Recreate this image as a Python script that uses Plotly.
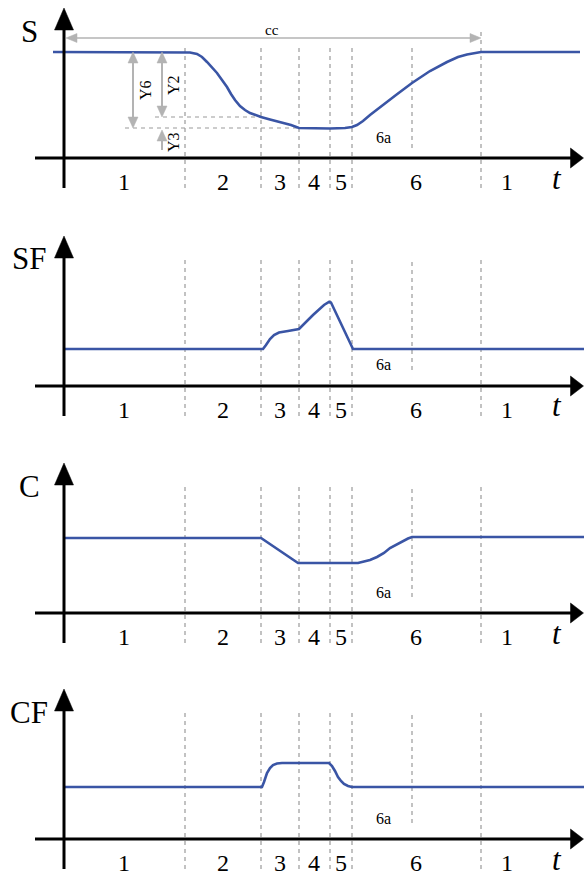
import plotly.graph_objects as go

W, H = 584, 877
BLUE = "#3a55a5"
GRAY_DASH = "#9a9a9a"
GRAY_ARROW = "#b3b3b3"
SERIF = "Liberation Serif"

# ---------------- data (t: time units, y: level units) ----------------
panel_names = ["S", "SF", "C", "CF"]
bounds = [12.1, 19.7, 23.5, 26.6, 28.8, 34.8, 41.7]          # phase boundaries
phase_labels = ["1", "2", "3", "4", "5", "6", "1"]
phase_label_t = [6.0, 15.9, 21.6, 25.0, 27.7, 35.2, 44.3]

S_t = [-1.1, 12.1, 12.6, 13.3, 13.8, 14.3, 14.8, 15.3, 15.8, 16.3, 16.7, 17.1, 17.6,
       18.1, 18.6, 19.2, 19.7, 20.6, 21.9, 22.7, 23.5, 25.1, 26.6, 28.1, 28.8, 29.3,
       29.9, 30.6, 31.6, 33.2, 34.8, 36.6, 38.3, 39.4, 40.3, 41.1, 41.7, 51.6]
S_y = [10.6, 10.6, 10.55, 10.4, 10.1, 9.6, 9.1, 8.5, 7.8, 7.1, 6.4, 5.8, 5.2,
       4.8, 4.5, 4.25, 4.1, 3.85, 3.55, 3.3, 3.0, 2.95, 2.95, 3.0, 3.1, 3.3,
       3.7, 4.3, 5.1, 6.3, 7.5, 8.7, 9.6, 10.1, 10.35, 10.5, 10.6, 10.6]

SF_t = [0.1, 19.9, 20.2, 20.6, 21.0, 21.5, 22.4, 23.5, 24.9, 26.0, 26.5, 26.7, 28.9, 52.0]
SF_y = [3.7, 3.7, 4.1, 4.7, 5.1, 5.35, 5.5, 5.7, 7.1, 8.1, 8.4, 8.35, 3.7, 3.7]

C_t = [0.1, 19.7, 23.4, 28.8, 29.4, 30.0, 30.6, 31.3, 32.0, 32.6, 33.3, 33.9, 34.4, 34.8, 52.0]
C_y = [7.5, 7.5, 5.0, 5.0, 5.0, 5.15, 5.3, 5.6, 6.0, 6.5, 6.9, 7.2, 7.45, 7.6, 7.6]

CF_t = [0.1, 19.8, 20.0, 20.3, 20.6, 20.9, 21.3, 21.8, 26.5, 26.8, 27.1, 27.4, 27.7,
        28.0, 28.4, 28.8, 52.0]
CF_y = [5.2, 5.2, 5.7, 6.6, 7.1, 7.4, 7.55, 7.6, 7.6, 7.3, 6.8, 6.2, 5.8,
        5.5, 5.3, 5.2, 5.2]

series = [(S_t, S_y), (SF_t, SF_y), (C_t, C_y), (CF_t, CF_y)]

# annotation levels in panel S
Y_top, Y2_level, Y6_level = 10.6, 4.1, 3.0

# ---------------- layout geometry ----------------
axis_px = [158, 386, 613, 839]       # pixel row of each t-axis
ABOVE, BELOW = 158, 38               # px of plot area above / below t-axis
X_RANGE = [-6.4, 52.0]               # 10 px per unit
Y_RANGE = [-BELOW / 10, ABOVE / 10]

fig = go.Figure()
shapes = []
annotations = []


def refs(k):
    s = "" if k == 0 else str(k + 1)
    return "x" + s, "y" + s


def line_shape(k, x0, y0, x1, y1, color, width, dash=None, layer="above"):
    xr, yr = refs(k)
    ln = dict(color=color, width=width)
    if dash:
        ln["dash"] = dash
    return dict(type="line", xref=xr, yref=yr, x0=x0, y0=y0, x1=x1, y1=y1, line=ln, layer=layer)


def head_shape(k, tx, ty, dx, dy, length, half, color, layer="above"):
    xr, yr = refs(k)
    bx, by = tx - dx * length, ty - dy * length
    px, py = -dy * half, dx * half
    path = f"M{tx},{ty} L{bx + px},{by + py} L{bx - px},{by - py} Z"
    return dict(type="path", xref=xr, yref=yr, path=path, fillcolor=color,
                line=dict(color=color, width=0.5), layer=layer)


def arrow(k, x0, y0, x1, y1, color, width, length, half, both=False, layer="above"):
    dxt, dyt = x1 - x0, y1 - y0
    n = (dxt ** 2 + dyt ** 2) ** 0.5
    dx, dy = dxt / n, dyt / n
    sx, sy = x0, y0
    if both:
        sx, sy = x0 + dx * length * 0.8, y0 + dy * length * 0.8
        shapes.append(head_shape(k, x0, y0, -dx, -dy, length, half, color, layer))
    ex, ey = x1 - dx * length * 0.8, y1 - dy * length * 0.8
    shapes.append(line_shape(k, sx, sy, ex, ey, color, width, layer=layer))
    shapes.append(head_shape(k, x1, y1, dx, dy, length, half, color, layer))


def text(k, x, y, s, size, italic=False, angle=0, color="black"):
    xr, yr = refs(k)
    annotations.append(dict(xref=xr, yref=yr, x=x, y=y, text=s, showarrow=False,
                            textangle=angle, xanchor="center", yanchor="middle",
                            borderpad=0,
                            font=dict(family=SERIF, size=size, color=color,
                                      style="italic" if italic else "normal")))


for k in range(4):
    xr, yr = refs(k)
    top_px = axis_px[k] - ABOVE
    bot_px = axis_px[k] + BELOW
    dom = [max(0, 1 - bot_px / H), min(1, 1 - top_px / H)]
    xa = "xaxis" if k == 0 else f"xaxis{k + 1}"
    ya = "yaxis" if k == 0 else f"yaxis{k + 1}"
    fig.layout[xa] = dict(domain=[0, 1], range=X_RANGE, visible=False, anchor=yr, fixedrange=True)
    fig.layout[ya] = dict(domain=dom, range=Y_RANGE, visible=False, anchor=xr, fixedrange=True)

    t, y = series[k]
    fig.add_trace(go.Scatter(x=t, y=y, mode="lines", xaxis=xr, yaxis=yr, showlegend=False,
                             hoverinfo="skip",
                             line=dict(color=BLUE, width=2.6, shape="linear")))

    # dashed phase boundaries
    for i, b in enumerate(bounds):
        top = 11.3 if k == 0 else 12.7
        bot = -3.0
        if k == 0 and i == 6:
            top = 12.8
        if i == 5:
            bot = 1.0 if k == 0 else 1.6
        shapes.append(line_shape(k, b, bot, b, top, GRAY_DASH, 1.2, dash="4px,4px", layer="below"))

    # axes with arrows
    arrow(k, 0, -3.0, 0, 15.0, "black", 3, 2.2, 0.95)
    arrow(k, -2.9, 0, 51.95, 0, "black", 3, 1.3, 1.0)

    # labels
    text(k, -3.5, 12.7, panel_names[k], 31)
    for lab, lt in zip(phase_labels, phase_label_t):
        text(k, lt, -2.4, lab, 24)
    text(k, 49.3, -2.0, "t", 31, italic=True)
    text(k, 31.9, 2.1, "6a", 16)

# ---- extra annotation marks in panel S ----
shapes.append(line_shape(0, 9.1, Y2_level, 19.6, Y2_level, GRAY_DASH, 1.2, dash="4px,4px", layer="below"))
shapes.append(line_shape(0, 6.1, Y6_level, 23.5, Y6_level, GRAY_DASH, 1.2, dash="4px,4px", layer="below"))
arrow(0, 6.9, Y_top, 6.9, Y6_level, GRAY_ARROW, 2, 1.1, 0.5, both=True)
arrow(0, 9.8, Y_top, 9.8, Y2_level, GRAY_ARROW, 2, 1.1, 0.5, both=True)
arrow(0, 9.8, 0.8, 9.8, 2.8, GRAY_ARROW, 2, 1.1, 0.5)
arrow(0, 0.2, 12.0, 41.7, 12.0, GRAY_ARROW, 1.6, 1.1, 0.45, both=True)
text(0, 8.1, 6.8, "Y6", 16, angle=-90)
text(0, 10.9, 7.3, "Y2", 16, angle=-90)
text(0, 10.9, 1.6, "Y3", 16, angle=-90)
text(0, 20.8, 12.8, "cc", 15)

fig.update_layout(width=W, height=H, margin=dict(l=0, r=0, t=0, b=0),
                  paper_bgcolor="white", plot_bgcolor="white",
                  shapes=shapes, annotations=annotations, showlegend=False)

fig.write_html("out.html", config={"displayModeBar": False},
               post_script="document.body.style.margin='0';")
